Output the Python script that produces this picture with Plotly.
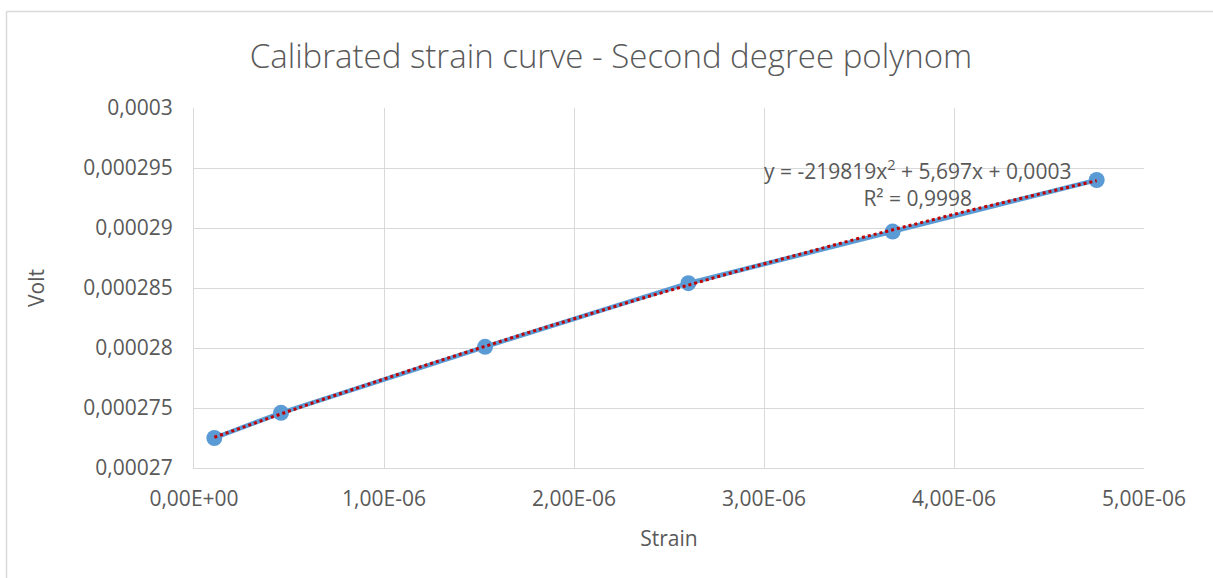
import numpy as np
import plotly.graph_objects as go

# Data
strain = [0.107e-6, 0.458e-6, 1.532e-6, 2.602e-6, 3.677e-6, 4.751e-6]
volt = [0.0002725, 0.0002746, 0.0002801, 0.0002854, 0.0002897, 0.0002940]

x_tickvals = [0, 1e-6, 2e-6, 3e-6, 4e-6, 5e-6]
x_ticktext = ["0,00E+00", "1,00E-06", "2,00E-06", "3,00E-06", "4,00E-06", "5,00E-06"]
y_tickvals = [0.00027, 0.000275, 0.00028, 0.000285, 0.00029, 0.000295, 0.0003]
y_ticktext = ["0,00027", "0,000275", "0,00028", "0,000285", "0,00029", "0,000295", "0,0003"]

title_text = "Calibrated strain curve - Second degree polynom"
equation_text = "y = -219819x<sup>2</sup> + 5,697x + 0,0003<br>R² = 0,9998"

# Second-degree polynomial trendline fitted to the data
coef = np.polyfit(strain, volt, 2)
xt = np.linspace(min(strain), max(strain), 200)
yt = np.polyval(coef, xt)

W, H = 1213, 578
L, R, T, B = 194, 69, 108, 110
pw, ph = W - L - R, H - T - B

fig = go.Figure()
fig.add_trace(go.Scatter(
    x=strain, y=volt, mode="lines+markers",
    line=dict(color="#5B9BD5", width=4.5),
    marker=dict(color="#5B9BD5", size=16),
    showlegend=False, hoverinfo="skip"))
fig.add_trace(go.Scatter(
    x=xt, y=yt, mode="lines",
    line=dict(color="#C00000", width=3, dash="dot"),
    showlegend=False, hoverinfo="skip"))

font_fam = "Open Sans, Liberation Sans, sans-serif"
fig.update_layout(
    width=W, height=H,
    margin=dict(l=L, r=R, t=T, b=B),
    paper_bgcolor="white", plot_bgcolor="white",
    title=dict(text=title_text, x=611 / W, xanchor="center",
               y=1 - 56 / H, yanchor="middle",
               font=dict(family=font_fam, size=33, color="#595959", weight=300)),
    xaxis=dict(range=[0, 5e-6], tickvals=x_tickvals, ticktext=x_ticktext,
               showgrid=True, gridcolor="#D9D9D9", gridwidth=1,
               showline=True, linecolor="#D9D9D9", linewidth=1,
               zeroline=False, ticks="", ticklen=0, ticklabelstandoff=12,
               tickfont=dict(family=font_fam, size=21, color="#595959"),
               title=dict(text="Strain", standoff=20,
                          font=dict(family=font_fam, size=21, color="#595959"))),
    yaxis=dict(range=[0.00027, 0.0003], tickvals=y_tickvals, ticktext=y_ticktext,
               showgrid=True, gridcolor="#D9D9D9", gridwidth=1,
               showline=True, linecolor="#D9D9D9", linewidth=1,
               zeroline=False, ticks="", ticklen=0, ticklabelstandoff=16,
               tickfont=dict(family=font_fam, size=21, color="#595959"),
               title=dict(text="Volt", standoff=32,
                          font=dict(family=font_fam, size=21, color="#595959"))),
)

fig.add_annotation(
    text=equation_text, xref="paper", yref="paper",
    x=(917 - L) / pw, y=1 - (183 - T) / ph, xanchor="center", yanchor="middle",
    showarrow=False, align="center",
    font=dict(family=font_fam, size=21, color="#595959"))

# Chart area border (top and left)
fig.add_shape(type="line", xref="paper", yref="paper",
              x0=(6.5 - L) / pw, x1=(W + 5 - L) / pw,
              y0=1 + (T - 11.5) / ph, y1=1 + (T - 11.5) / ph,
              line=dict(color="#D9D9D9", width=1.5))
fig.add_shape(type="line", xref="paper", yref="paper",
              x0=(6.5 - L) / pw, x1=(6.5 - L) / pw,
              y0=1 + (T - 11.5) / ph, y1=-(B + 5) / ph,
              line=dict(color="#D9D9D9", width=1.5))

fig.write_html("out.html")
